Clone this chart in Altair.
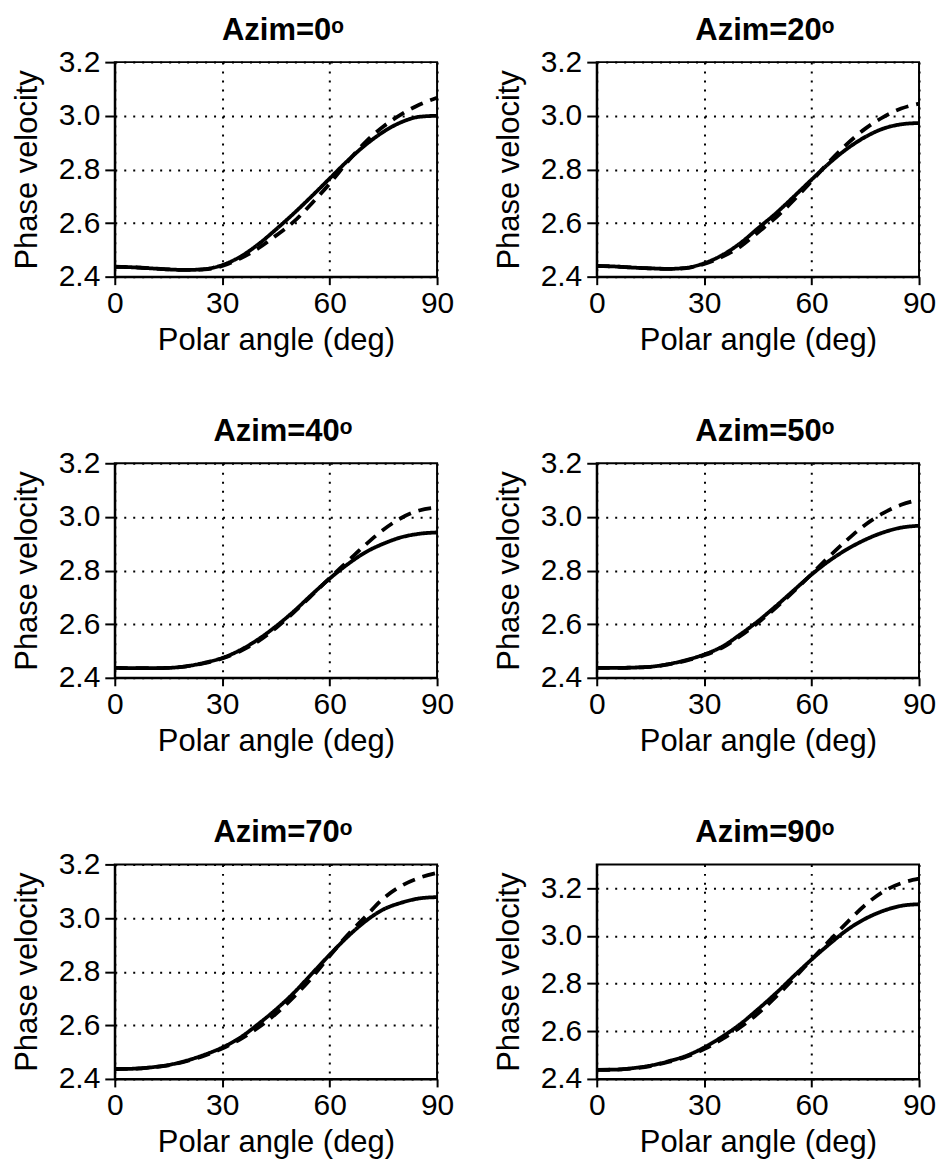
import altair as alt
import pandas as pd

# Polar angle sample points (deg)
polar_angle = [0, 5, 10, 15, 20, 25, 30, 35, 40, 45, 50, 55, 60, 65, 70, 75, 80, 85, 90]

azimuths = [0, 20, 40, 50, 70, 90]

solid_az0 = [2.437, 2.435, 2.431, 2.427, 2.425, 2.428, 2.443, 2.474, 2.520, 2.576, 2.636, 2.700, 2.766, 2.832, 2.891, 2.940, 2.976, 2.996, 3.000]
dashed_az0 = [2.437, 2.435, 2.431, 2.427, 2.425, 2.427, 2.440, 2.468, 2.505, 2.553, 2.605, 2.673, 2.747, 2.828, 2.902, 2.960, 3.005, 3.041, 3.067]

solid_az20 = [2.440, 2.438, 2.434, 2.431, 2.429, 2.433, 2.450, 2.480, 2.524, 2.580, 2.636, 2.698, 2.762, 2.824, 2.878, 2.921, 2.952, 2.968, 2.973]
dashed_az20 = [2.440, 2.438, 2.434, 2.431, 2.429, 2.432, 2.447, 2.474, 2.511, 2.565, 2.620, 2.685, 2.756, 2.830, 2.896, 2.952, 2.995, 3.027, 3.045]

solid_az40 = [2.437, 2.436, 2.436, 2.437, 2.443, 2.456, 2.474, 2.503, 2.543, 2.592, 2.648, 2.710, 2.770, 2.823, 2.868, 2.900, 2.924, 2.937, 2.942]
dashed_az40 = [2.437, 2.436, 2.436, 2.437, 2.443, 2.455, 2.472, 2.499, 2.536, 2.586, 2.644, 2.707, 2.772, 2.834, 2.896, 2.952, 2.996, 3.024, 3.035]

solid_az50 = [2.437, 2.437, 2.438, 2.441, 2.451, 2.466, 2.487, 2.516, 2.561, 2.611, 2.667, 2.726, 2.785, 2.837, 2.880, 2.915, 2.942, 2.960, 2.967]
dashed_az50 = [2.437, 2.437, 2.438, 2.441, 2.450, 2.464, 2.484, 2.512, 2.555, 2.605, 2.661, 2.722, 2.787, 2.853, 2.915, 2.971, 3.014, 3.045, 3.064]

solid_az70 = [2.437, 2.438, 2.443, 2.452, 2.468, 2.490, 2.517, 2.554, 2.604, 2.659, 2.721, 2.792, 2.863, 2.930, 2.988, 3.032, 3.057, 3.073, 3.078]
dashed_az70 = [2.437, 2.438, 2.443, 2.451, 2.466, 2.487, 2.513, 2.548, 2.591, 2.643, 2.706, 2.777, 2.858, 2.937, 3.005, 3.073, 3.120, 3.150, 3.168]

solid_az90 = [2.438, 2.439, 2.445, 2.456, 2.474, 2.497, 2.532, 2.577, 2.629, 2.692, 2.759, 2.831, 2.901, 2.966, 3.026, 3.072, 3.105, 3.126, 3.133]
dashed_az90 = [2.438, 2.439, 2.444, 2.454, 2.471, 2.493, 2.525, 2.567, 2.616, 2.674, 2.744, 2.821, 2.901, 2.980, 3.058, 3.130, 3.186, 3.221, 3.240]

y_max = [3.2, 3.2, 3.2, 3.2, 3.2, 3.3]
x_ticks = [0, 30, 60, 90]
y_ticks = [2.4, 2.6, 2.8, 3.0, 3.2]

series = [
    (solid_az0, dashed_az0),
    (solid_az20, dashed_az20),
    (solid_az40, dashed_az40),
    (solid_az50, dashed_az50),
    (solid_az70, dashed_az70),
    (solid_az90, dashed_az90),
]

FONT = "Liberation Sans"


def panel(az, solid, dashed, ymax):
    n = len(polar_angle)
    df = pd.DataFrame({
        "polar": polar_angle + polar_angle,
        "v": solid + dashed,
        "kind": ["solid"] * n + ["dashed"] * n,
    })
    top_gap = 0 if ymax <= 3.2 else 15
    chart = alt.Chart(df).mark_line(
        color="black", strokeWidth=3.8, interpolate="monotone", clip=True
    ).encode(
        x=alt.X("polar:Q",
                scale=alt.Scale(domain=[0, 90], nice=False, zero=False),
                axis=alt.Axis(values=x_ticks, title="Polar angle (deg)", format="d")),
        y=alt.Y("v:Q",
                scale=alt.Scale(domain=[2.4, ymax], nice=False, zero=False),
                axis=alt.Axis(values=y_ticks, format=".1f", title="Phase velocity")),
        strokeDash=alt.StrokeDash("kind:N",
                                  scale=alt.Scale(domain=["solid", "dashed"],
                                                  range=[[1, 0], [13, 8]]),
                                  legend=None),
        detail="kind:N",
    ).properties(
        width=323, height=215,
        title=alt.TitleParams(f"Azim={az}\u1d52", font=FONT, fontSize=31,
                              fontWeight="bold", color="black", anchor="middle",
                              frame="group", offset=top_gap, dx=7),
    )
    return chart


panels = [panel(az, s, d, ym) for az, (s, d), ym in zip(azimuths, series, y_max)]

rows = [alt.hconcat(panels[i], panels[i + 1], spacing=37) for i in range(0, 6, 2)]

chart = alt.vconcat(
    *rows, spacing=59, background="white",
    padding={"left": 2, "top": 5, "right": 0, "bottom": 0},
).configure_view(
    stroke="black", strokeWidth=2
).configure_axis(
    grid=True, gridColor="black", gridDash=[2, 7], gridWidth=2, gridOpacity=1,
    domainColor="black", domainWidth=2, tickColor="black", tickWidth=2,
    labelFont=FONT, labelFontSize=30, labelColor="black", labelFlush=False,
    labelOverlap=False,
    titleFont=FONT, titleFontSize=31, titleFontWeight="normal", titleColor="black",
).configure_axisX(
    tickSize=8, labelPadding=4, titlePadding=7,
).configure_axisY(
    tickSize=10, labelPadding=5, titlePadding=15,
)

chart.save("out.html", embed_options={"renderer": "svg", "actions": False})
